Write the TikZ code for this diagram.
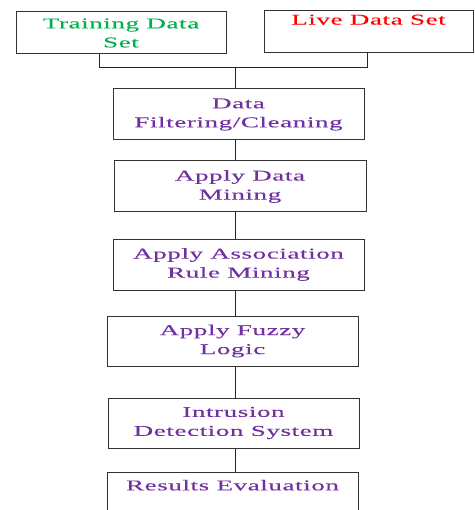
\documentclass[tikz,border=0pt]{standalone}
\usepackage{fontspec}
\setmainfont{Liberation Serif}[FakeStretch=1.8,LetterSpace=4,FakeBold=0.2]
\definecolor{tgreen}{RGB}{0,176,80}
\definecolor{lred}{RGB}{255,0,0}
\definecolor{fpurple}{RGB}{112,48,160}
\begin{document}
\begin{tikzpicture}[x=1pt,y=-1pt,
  box/.style={draw=black!80,line width=1pt,rectangle,inner sep=0pt,
    minimum width=251pt,minimum height=51pt,align=center,
    font=\fontsize{15}{19}\selectfont,text=fpurple},
  link/.style={draw=black!85,line width=1pt}]
\useasboundingbox (0,0) rectangle (474,510);
\clip (0,0) rectangle (474,510);
\node[box,minimum width=210pt,minimum height=42pt,text=tgreen] (train) at (121,33) {Training Data\\Set};
\node[box,minimum width=209pt,minimum height=42pt,text=lred] (live) at (368.5,32) {Live Data Set\\\strut};
\node[box] (filter) at (238.5,114.5) {Data\\Filtering/Cleaning};
\node[box,minimum width=252pt] (mining) at (240,186.5) {Apply Data\\Mining};
\node[box] (assoc) at (238.5,264.5) {Apply Association\\Rule Mining};
\node[box,minimum height=50pt] (fuzzy) at (232.5,341) {Apply Fuzzy\\Logic};
\node[box,minimum height=50pt] (ids) at (233.5,423) {Intrusion\\Detection System};
\node[box] (results) at (232.5,497.5) {Results Evaluation\\\strut};
\coordinate (tl) at (99,0);
\coordinate (tr) at (367,0);
\coordinate (jy) at (0,68);
\coordinate (spine) at (235.5,0);
\draw[link] (train.south -| tl) -- (tl |- jy) -- (tr |- jy) -- (live.south -| tr);
\draw[link] (spine |- jy) -- (filter.north -| spine);
\draw[link] (filter.south -| spine) -- (mining.north -| spine);
\draw[link] (mining.south -| spine) -- (assoc.north -| spine);
\draw[link] (assoc.south -| spine) -- (fuzzy.north -| spine);
\draw[link] (fuzzy.south -| spine) -- (ids.north -| spine);
\draw[link] (ids.south -| spine) -- (results.north -| spine);
\end{tikzpicture}
\end{document}
